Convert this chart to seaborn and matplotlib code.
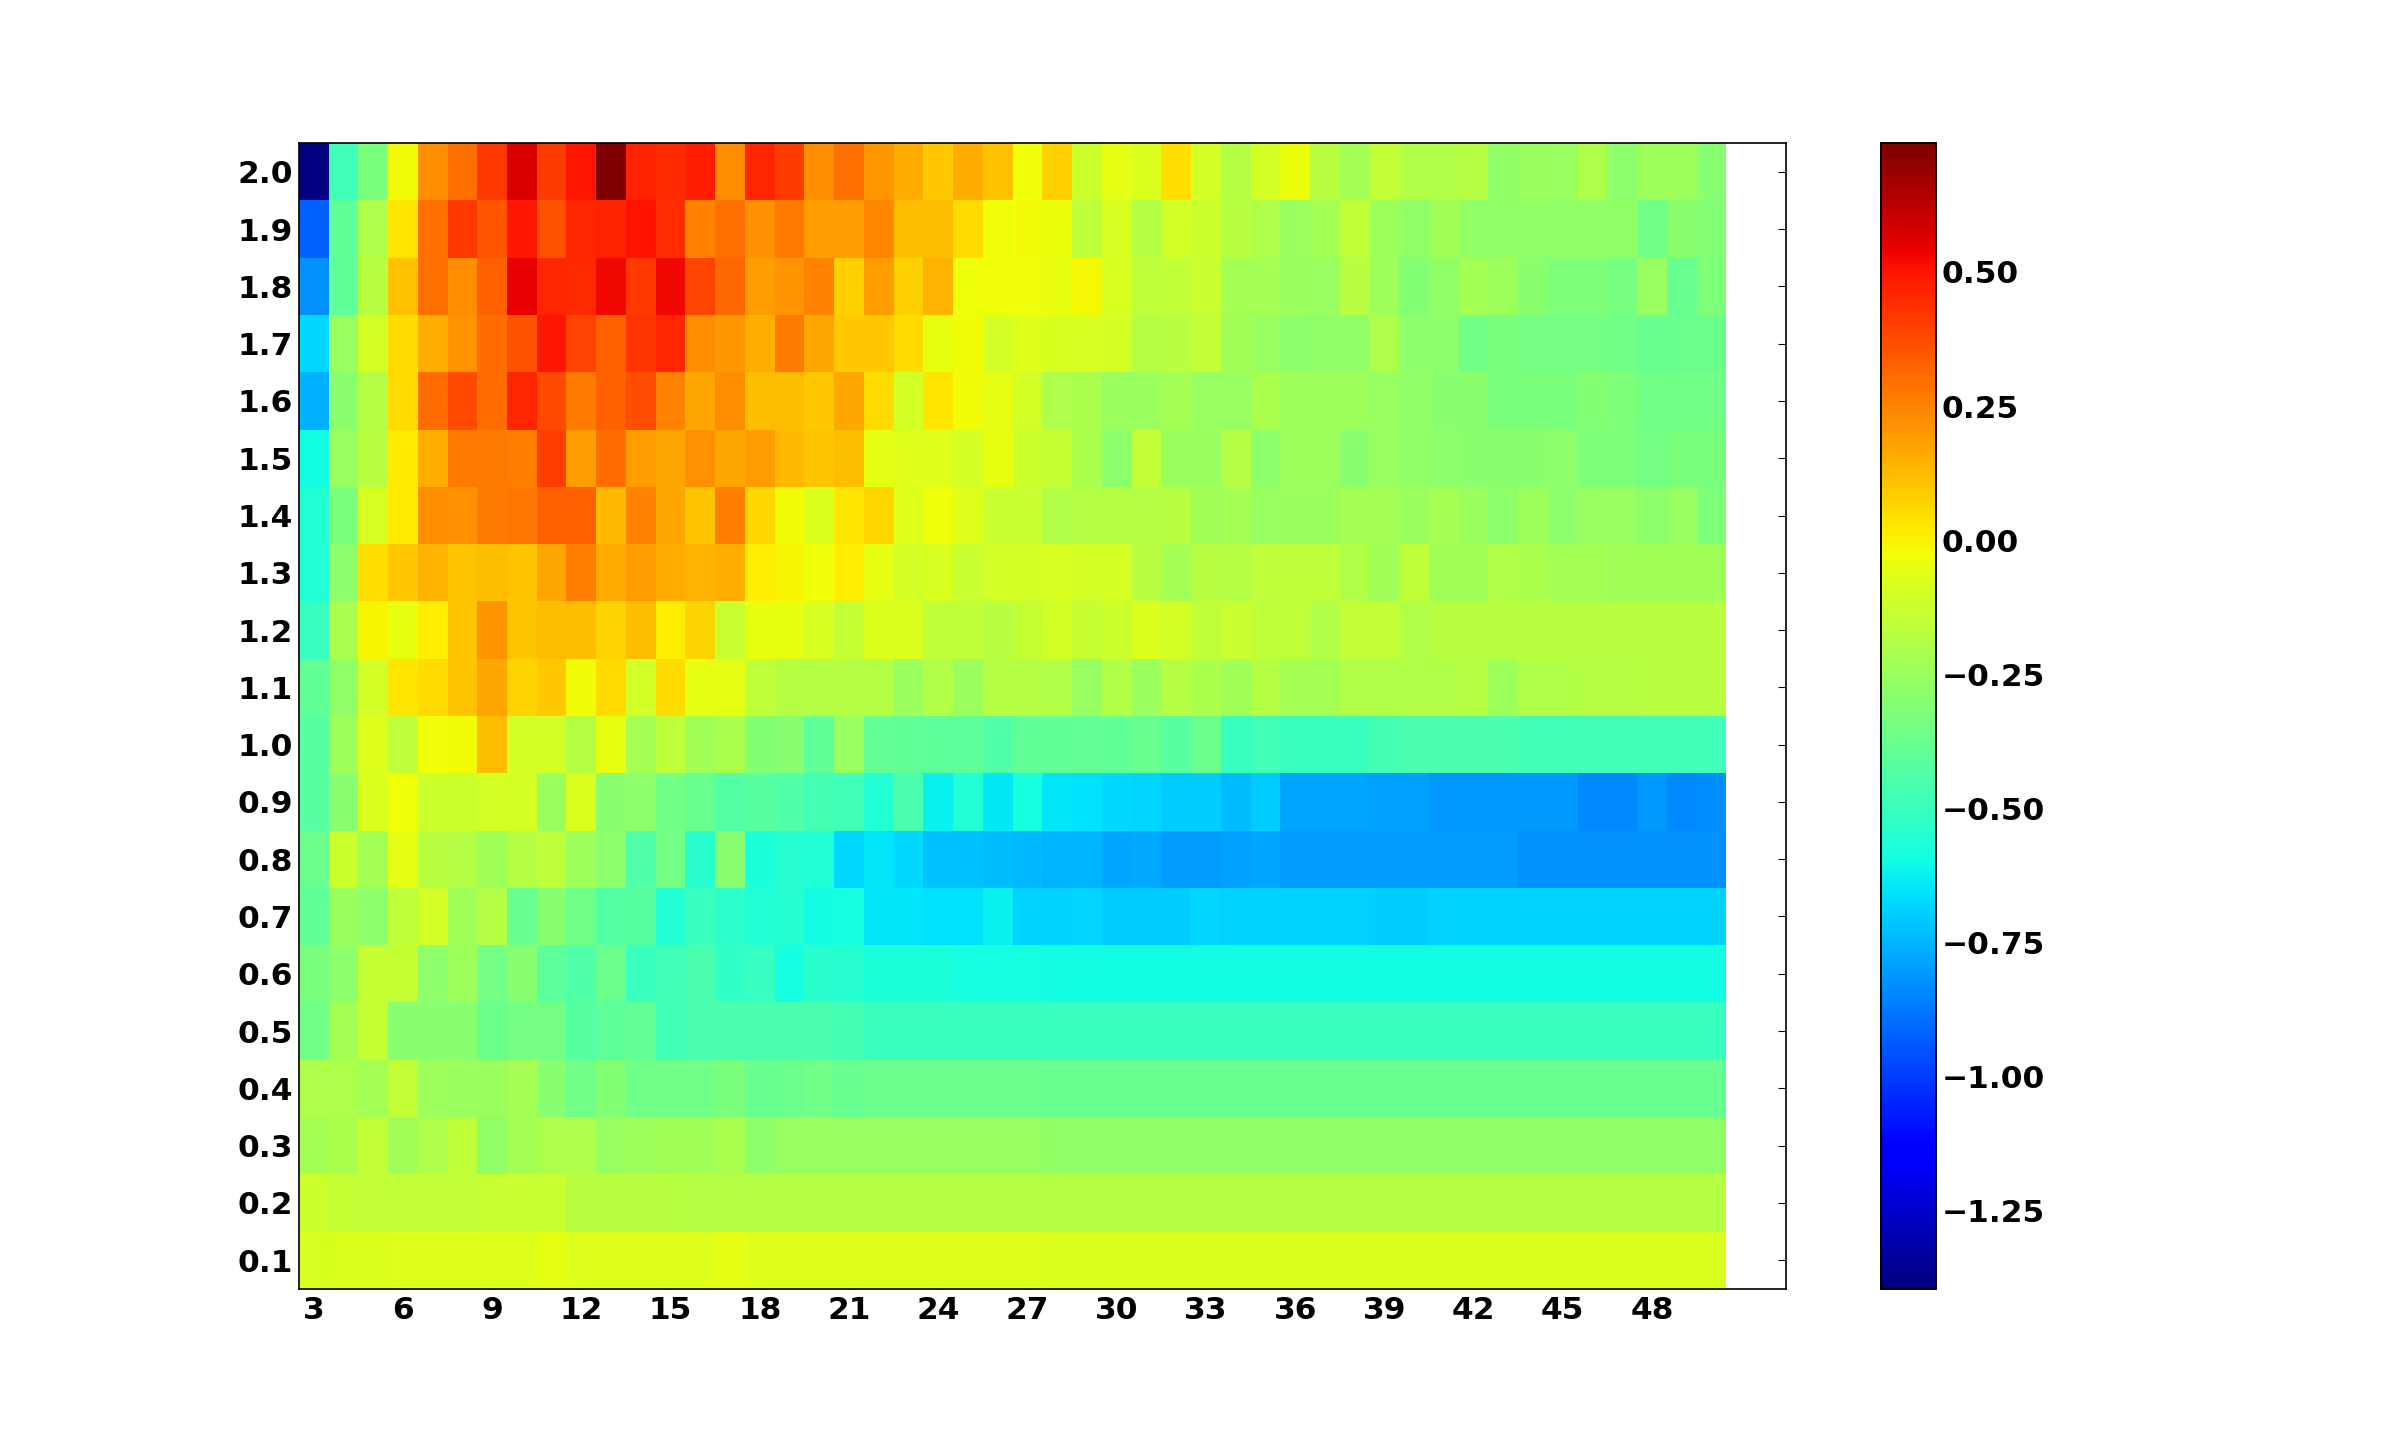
import matplotlib
matplotlib.use("Agg")
import matplotlib.pyplot as plt
import numpy as np
import pandas as pd
import seaborn as sns

columns = list(range(3, 51))
row_labels = ["2.0", "1.9", "1.8", "1.7", "1.6", "1.5", "1.4", "1.3", "1.2", "1.1",
              "1.0", "0.9", "0.8", "0.7", "0.6", "0.5", "0.4", "0.3", "0.2", "0.1"]

r20 = [-1.395, -.48, -.33, -.02, .23, .29, .42, .57, .41, .49, .74, .47, .45, .48, .23, .46, .41, .23, .29, .20, .16, .09, .16, .11, -.03,
       .08, -.12, -.06, -.08, .04, -.11, -.18, -.10, -.04, -.17, -.22, -.15, -.19, -.19, -.18, -.27, -.25, -.26, -.20, -.28, -.24, -.24, -.30]
r19 = [-.925, -.40, -.20, .03, .29, .42, .35, .495, .36, .46, .47, .50, .44, .25, .29, .22, .27, .19, .19, .24, .12, .12, .05, -.03, -.02,
       -.04, -.16, -.09, -.18, -.11, -.12, -.17, -.20, -.25, -.22, -.15, -.24, -.27, -.23, -.27, -.27, -.27, -.27, -.27, -.27, -.36, -.29, -.31]
r18 = [-.82, -.40, -.17, .11, .29, .23, .33, .54, .46, .45, .53, .42, .53, .39, .31, .19, .21, .25, .08, .19, .08, .14, -.03, -.03, -.03,
       -.05, -.015, -.09, -.16, -.15, -.13, -.22, -.22, -.25, -.26, -.17, -.24, -.31, -.27, -.22, -.24, -.29, -.32, -.32, -.34, -.26, -.38, -.32]
r17 = [-.675, -.26, -.10, .05, .15, .21, .30, .36, .49, .39, .33, .43, .46, .23, .20, .15, .27, .17, .09, .09, .05, -.05, -.02, -.11, -.07,
       -.09, -.09, -.11, -.18, -.17, -.15, -.23, -.26, -.28, -.27, -.27, -.20, -.28, -.28, -.36, -.33, -.35, -.35, -.35, -.36, -.38, -.37, -.37]
r16 = [-.76, -.29, -.18, .05, .30, .38, .30, .46, .38, .27, .33, .37, .25, .17, .23, .12, .12, .09, .17, .05, -.11, .03, -.02, -.06, -.11,
       -.20, -.21, -.25, -.25, -.22, -.26, -.26, -.21, -.24, -.24, -.24, -.26, -.27, -.30, -.29, -.33, -.33, -.33, -.31, -.32, -.36, -.36, -.36]
r15 = [-.60, -.26, -.17, .02, .15, .27, .27, .26, .40, .19, .30, .19, .17, .22, .17, .19, .13, .10, .12, -.06, -.07, -.07, -.11, -.05, -.12,
       -.14, -.21, -.28, -.15, -.25, -.25, -.18, -.28, -.24, -.24, -.29, -.26, -.27, -.28, -.29, -.29, -.29, -.28, -.32, -.32, -.35, -.33, -.33]
r14 = [-.56, -.33, -.09, .02, .23, .22, .27, .28, .33, .33, .13, .25, .17, .10, .26, .06, -.02, -.08, .03, .06, -.07, -.03, -.07, -.13, -.13,
       -.19, -.18, -.18, -.18, -.17, -.23, -.22, -.26, -.25, -.25, -.22, -.22, -.25, -.22, -.25, -.28, -.24, -.28, -.26, -.26, -.28, -.26, -.32]
r13 = [-.56, -.28, .04, .09, .14, .10, .12, .10, .17, .26, .16, .19, .16, .14, .15, .01, -.01, -.03, .01, -.06, -.11, -.09, -.13, -.11, -.11,
       -.09, -.11, -.10, -.17, -.22, -.17, -.18, -.16, -.16, -.16, -.19, -.23, -.16, -.23, -.23, -.19, -.21, -.22, -.22, -.23, -.23, -.23, -.23]
r12 = [-.51, -.21, -.01, -.05, .01, .10, .21, .10, .12, .12, .07, .12, .01, .07, -.13, -.05, -.05, -.09, -.14, -.08, -.08, -.16, -.16, -.17, -.14,
       -.11, -.14, -.12, -.08, -.11, -.16, -.13, -.16, -.16, -.19, -.15, -.15, -.19, -.17, -.17, -.17, -.17, -.17, -.17, -.17, -.17, -.17, -.17]
r11 = [-.40, -.27, -.11, .03, .05, .10, .17, .07, .09, -.02, .05, -.11, .05, -.06, -.06, -.16, -.18, -.18, -.18, -.18, -.25, -.19, -.25, -.18, -.18,
       -.19, -.26, -.19, -.25, -.18, -.21, -.23, -.18, -.22, -.22, -.19, -.19, -.19, -.19, -.18, -.24, -.19, -.19, -.18, -.18, -.17, -.17, -.17]
r10 = [-.42, -.24, -.07, -.16, -.03, -.02, .12, -.11, -.11, -.18, -.05, -.22, -.16, -.23, -.21, -.31, -.30, -.40, -.26, -.39, -.40, -.41, -.41, -.44, -.40,
       -.40, -.39, -.40, -.38, -.42, -.37, -.50, -.48, -.50, -.50, -.50, -.47, -.46, -.46, -.46, -.46, -.48, -.48, -.48, -.48, -.48, -.48, -.48]
r09 = [-.42, -.30, -.08, -.03, -.12, -.12, -.10, -.10, -.25, -.08, -.30, -.28, -.36, -.38, -.43, -.42, -.44, -.47, -.48, -.56, -.46, -.62, -.56, -.64, -.59,
       -.65, -.66, -.67, -.68, -.70, -.70, -.73, -.70, -.78, -.78, -.78, -.79, -.79, -.81, -.81, -.81, -.81, -.81, -.84, -.84, -.81, -.84, -.83]
r08 = [-.37, -.12, -.22, -.06, -.17, -.18, -.23, -.18, -.16, -.24, -.28, -.44, -.35, -.54, -.30, -.57, -.55, -.56, -.67, -.65, -.67, -.72, -.72, -.73, -.74,
       -.75, -.75, -.78, -.77, -.80, -.80, -.79, -.78, -.80, -.80, -.80, -.80, -.80, -.80, -.80, -.80, -.82, -.82, -.82, -.82, -.82, -.82, -.82]
r07 = [-.40, -.25, -.28, -.16, -.11, -.23, -.18, -.38, -.30, -.36, -.43, -.42, -.56, -.50, -.53, -.56, -.55, -.60, -.59, -.65, -.65, -.66, -.66, -.62, -.69,
       -.69, -.68, -.70, -.70, -.70, -.68, -.69, -.69, -.69, -.69, -.69, -.70, -.70, -.69, -.69, -.69, -.69, -.69, -.69, -.69, -.69, -.69, -.69]
r06 = [-.33, -.28, -.14, -.14, -.28, -.24, -.35, -.30, -.41, -.44, -.37, -.50, -.48, -.46, -.52, -.51, -.59, -.54, -.55, -.57, -.57, -.57, -.59, -.59, -.59,
       -.60, -.60, -.60, -.60, -.60, -.60, -.60, -.60, -.60, -.60, -.60, -.60, -.60, -.60, -.60, -.60, -.60, -.60, -.60, -.60, -.60, -.60, -.60]
r05 = [-.36, -.22, -.14, -.30, -.30, -.30, -.37, -.35, -.35, -.42, -.41, -.39, -.48, -.46, -.46, -.46, -.46, -.46, -.47, -.50, -.50, -.50, -.50, -.50, -.50,
       -.50, -.50, -.50, -.50, -.50, -.50, -.50, -.50, -.50, -.50, -.50, -.50, -.50, -.50, -.50, -.50, -.50, -.50, -.50, -.50, -.50, -.50, -.50]
r04 = [-.20, -.20, -.22, -.15, -.24, -.25, -.25, -.22, -.30, -.36, -.31, -.36, -.36, -.36, -.33, -.38, -.37, -.36, -.38, -.37, -.37, -.37, -.37, -.37, -.37,
       -.38, -.38, -.38, -.38, -.38, -.38, -.38, -.38, -.38, -.38, -.38, -.38, -.38, -.38, -.38, -.38, -.38, -.38, -.38, -.38, -.38, -.38, -.38]
r03 = [-.22, -.21, -.15, -.23, -.20, -.16, -.27, -.22, -.20, -.20, -.26, -.24, -.23, -.23, -.21, -.28, -.26, -.26, -.26, -.26, -.26, -.26, -.26, -.26, -.26,
       -.27, -.27, -.27, -.27, -.27, -.27, -.27, -.27, -.27, -.27, -.27, -.27, -.27, -.27, -.27, -.27, -.27, -.27, -.27, -.27, -.27, -.27, -.27]
r02 = [-.12, -.14, -.15, -.15, -.15, -.15, -.13, -.13, -.13, -.17, -.17, -.17, -.17, -.18, -.18, -.18, -.18, -.18, -.18, -.18, -.18, -.18, -.18, -.18, -.18,
       -.18, -.18, -.18, -.18, -.18, -.18, -.18, -.18, -.18, -.18, -.18, -.18, -.18, -.18, -.18, -.18, -.18, -.18, -.18, -.18, -.18, -.18, -.18]
r01 = [-.09, -.08, -.08, -.07, -.07, -.07, -.07, -.07, -.06, -.07, -.07, -.07, -.07, -.07, -.06, -.07, -.07, -.07, -.07, -.07, -.07, -.07, -.07, -.07, -.07,
       -.08, -.08, -.08, -.08, -.08, -.08, -.08, -.08, -.08, -.08, -.08, -.08, -.08, -.08, -.08, -.08, -.08, -.08, -.08, -.08, -.08, -.08, -.08]

rows = [r20, r19, r18, r17, r16, r15, r14, r13, r12, r11, r10, r09, r08, r07, r06, r05, r04, r03, r02, r01]
data = pd.DataFrame(rows, index=row_labels, columns=columns)

x_tick_labels = list(range(3, 49, 3))
cbar_ticks = [-1.25, -1.00, -0.75, -0.50, -0.25, 0.00, 0.25, 0.50]

sns.set_theme(style="white")
plt.rcParams["font.family"] = ["DejaVu Sans"]
plt.rcParams["font.weight"] = "bold"

fig = plt.figure(figsize=(24, 14.32), dpi=100, facecolor="white")
ax = fig.add_axes([0.1245, 0.1, 0.6196, 0.8])
cax = fig.add_axes([0.7838, 0.1, 0.0229, 0.8])

sns.heatmap(data, ax=ax, cbar_ax=cax, cmap="jet", vmin=-1.395, vmax=0.74,
            cbar_kws={"ticks": cbar_ticks}, linewidths=0, rasterized=True)

ax.set_xlim(0, 50)
ax.set_ylim(20, 0)
ax.set_xlabel("")
ax.set_ylabel("")
ax.set_xticks([c - 3 + 0.5 for c in x_tick_labels])
ax.set_xticklabels([str(c) for c in x_tick_labels], rotation=0, fontsize=22.5, fontweight="bold", color="black")
ax.set_yticks(np.arange(len(row_labels)) + 0.5)
ax.set_yticklabels(row_labels, rotation=0, fontsize=22.5, fontweight="bold", color="black", va="center_baseline")
ax.tick_params(axis="both", which="major", direction="in", length=5.5, width=0.8, color="black",
               top=True, right=True, bottom=True, left=True)
ax.tick_params(axis="x", pad=5)
ax.tick_params(axis="y", pad=4)
for s in ax.spines.values():
    s.set_visible(True)
    s.set_color("black")
    s.set_linewidth(1.2)

cax.yaxis.set_ticks_position("right")
cax.set_yticks(cbar_ticks)
cax.set_yticklabels(["\u22121.25", "\u22121.00", "\u22120.75", "\u22120.50", "\u22120.25", "0.00", "0.25", "0.50"],
                    fontsize=22.5, fontweight="bold", color="black", va="center_baseline")
cax.tick_params(axis="y", direction="in", length=5.5, width=0.8, color="black", right=True, left=False, pad=4)
for s in cax.spines.values():
    s.set_visible(True)
    s.set_color("black")
    s.set_linewidth(1.2)

fig.savefig("out.png", dpi=100, facecolor="white")
